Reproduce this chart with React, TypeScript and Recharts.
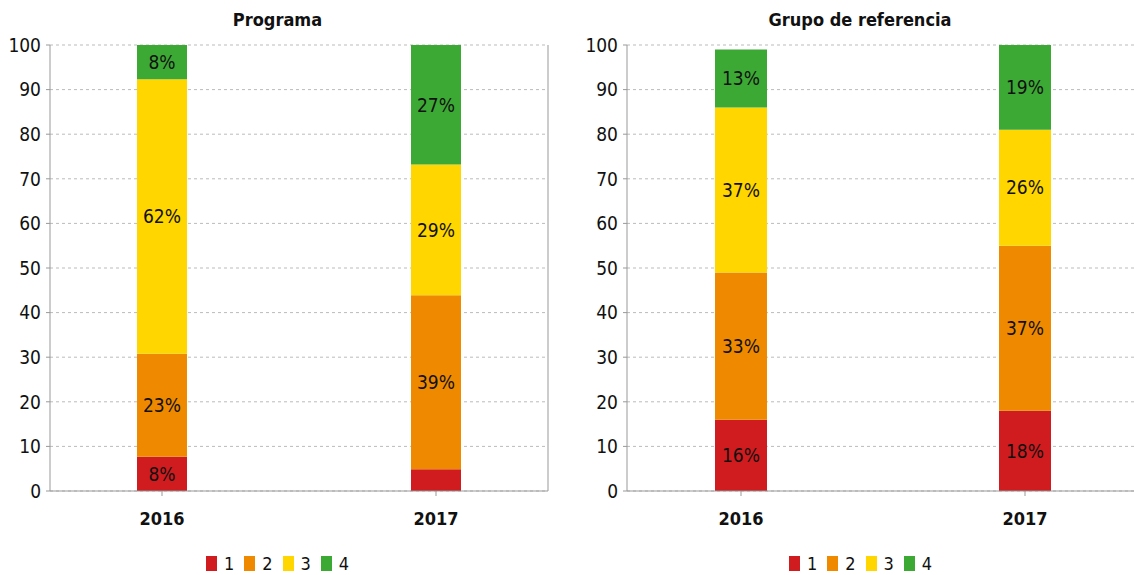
import { BarChart, Bar, XAxis, YAxis, CartesianGrid, LabelList, Legend } from 'recharts'

const FONT = '"DejaVu Sans Condensed", "DejaVu Sans", sans-serif'
const TXT = { fontFamily: FONT, fontStretch: 'condensed' as const }

const years = ['2016', '2017']
const levels = ['1', '2', '3', '4']
const levelColors = ['#d01b1f', '#ef8a00', '#ffd600', '#3da935']
const yTicks = [0, 10, 20, 30, 40, 50, 60, 70, 80, 90, 100]

// percentage per level (1..4) for each year
const programa2016 = [7.7, 23.1, 61.5, 7.7]
const programa2017 = [4.9, 39.0, 29.3, 26.8]
const referencia2016 = [16, 33, 37, 13]
const referencia2017 = [18, 37, 26, 19]

const toRows = (byYear: number[][]) =>
  years.map((year, i) => {
    const row: Record<string, string | number> = { year }
    levels.forEach((lvl, j) => {
      row['n' + lvl] = byYear[i][j]
    })
    return row
  })

const programaRows = toRows([programa2016, programa2017])
const referenciaRows = toRows([referencia2016, referencia2017])

const pctLabel = (v: any) => (Number(v) >= 6 ? `${Math.round(Number(v))}%` : '')

function LegendBox() {
  return (
    <div style={{ display: 'flex', justifyContent: 'center', paddingTop: 22, ...TXT, fontSize: 18, color: '#111' }}>
      {levels.map((lvl, i) => (
        <div key={lvl} style={{ display: 'flex', alignItems: 'center', marginRight: i < levels.length - 1 ? 10 : 0 }}>
          <span style={{ display: 'inline-block', width: 11, height: 15, background: levelColors[i], marginRight: 7 }} />
          <span>{lvl}</span>
        </div>
      ))}
    </div>
  )
}

interface PanelProps {
  title: string
  rows: Record<string, string | number>[]
  left: number
  width: number
  marginLeft: number
  marginRight: number
  padLeft: number
  padRight: number
  barSize: number
}

function Panel({ title, rows, left, width, marginLeft, marginRight, padLeft, padRight, barSize }: PanelProps) {
  return (
    <div style={{ position: 'absolute', left, top: 0, width, height: 575 }}>
      <div style={{ position: 'absolute', top: 10, left: 0, width, textAlign: 'center', ...TXT, fontWeight: 'bold', fontSize: 18, lineHeight: '20px', color: '#111' }}>
        {title}
      </div>
      <BarChart width={width} height={575} data={rows} margin={{ top: 45, right: marginRight, bottom: 0, left: marginLeft }}>
        <CartesianGrid yAxisId="l" vertical={false} stroke="#bbb" strokeDasharray="3 3" />
        <XAxis
          dataKey="year"
          height={40}
          padding={{ left: padLeft, right: padRight }}
          axisLine={{ stroke: '#999' }}
          tickLine={{ stroke: '#999' }}
          tickSize={5}
          tickMargin={16}
          tick={{ fill: '#111', fontSize: 18, fontWeight: 'bold', style: TXT }}
        />
        <YAxis
          yAxisId="l"
          width={44}
          domain={[0, 100]}
          ticks={yTicks}
          interval={0}
          axisLine={{ stroke: '#999' }}
          tickLine={{ stroke: '#999' }}
          tickSize={4}
          tickMargin={5}
          tick={{ fill: '#111', fontSize: 19, style: TXT }}
        />
        <YAxis yAxisId="r" orientation="right" width={1} domain={[0, 100]} tick={false} tickLine={false} axisLine={{ stroke: '#999' }} />
        <Legend verticalAlign="bottom" height={44} content={() => <LegendBox />} />
        {levels.map((lvl, i) => (
          <Bar key={lvl} yAxisId="l" dataKey={'n' + lvl} name={lvl} stackId="a" fill={levelColors[i]} barSize={barSize} isAnimationActive={false}>
            <LabelList dataKey={'n' + lvl} position="center" formatter={pctLabel} fill="#111" fontSize={19} style={TXT} />
          </Bar>
        ))}
      </BarChart>
    </div>
  )
}

export default function App() {
  return (
    <div style={{ position: 'absolute', left: 0, top: 0, width: 1134, height: 575, overflow: 'hidden', background: '#fff' }}>
      <Panel title="Programa" rows={programaRows} left={0} width={555} marginLeft={6} marginRight={6} padLeft={-25} padRight={-25} barSize={50} />
      <Panel title="Grupo de referencia" rows={referenciaRows} left={583} width={554} marginLeft={0} marginRight={-1} padLeft={-28} padRight={-30} barSize={52} />
    </div>
  )
}
